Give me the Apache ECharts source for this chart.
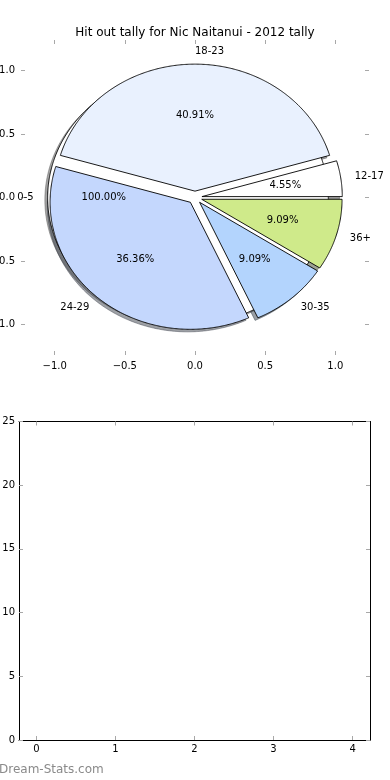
<!DOCTYPE html>
<html><head><meta charset="utf-8">
<script src="https://cdn.jsdelivr.net/npm/echarts@6/dist/echarts.min.js"></script>
<style>html,body{margin:0;padding:0;background:#fff}#c{width:390px;height:780px}</style>
</head><body><div id="c"></div>
<script>
const titleText = 'Hit out tally for Nic Naitanui - 2012 tally';
const outerGroups = ['0-5'];
const outerValues = [1];
const ageGroups = ['12-17', '18-23', '24-29', '30-35', '36+'];
const hitOuts = [1, 9, 8, 2, 2];
const pieTicks = [-1, -0.5, 0, 0.5, 1];
const barXTicks = [0, 1, 2, 3, 4];
const barYTicks = [0, 5, 10, 15, 20, 25];
const watermark = 'Dream-Stats.com';

const colors = ['#ffffff', '#e9f1fe', '#c4d7fd', '#b3d4fd', '#cfea8a'];
const EXPLODE = 0.05, SHADOW_OFF = -0.02, LABEL_DIST = 1.1, PCT_DIST = 0.6;
const FONT = 'DejaVu Sans';

function buildWedges(values, labels) {
  const total = values.reduce((a, b) => a + b, 0);
  let acc = 0;
  return values.map((v, i) => {
    const t1 = acc / total * 360; acc += v; const t2 = acc / total * 360;
    return { t1, t2, frac: v / total, label: labels[i], color: colors[i % colors.length] };
  });
}
const allWedges = buildWedges(outerValues, outerGroups).concat(buildWedges(hitOuts, ageGroups));

function center(w) {
  const mid = (w.t1 + w.t2) / 2 * Math.PI / 180;
  return [EXPLODE * Math.cos(mid), EXPLODE * Math.sin(mid), mid];
}
function wedgePoints(w, api, off) {
  const c = center(w);
  const cx = c[0] + off, cy = c[1] + off;
  const full = (w.t2 - w.t1) >= 359.999;
  const pts = [];
  if (!full) pts.push(api.coord([cx, cy]));
  const n = Math.max(4, Math.ceil((w.t2 - w.t1) / 0.5));
  for (let k = 0; k <= n; k++) {
    const t = (w.t1 + (w.t2 - w.t1) * k / n) * Math.PI / 180;
    pts.push(api.coord([cx + Math.cos(t), cy + Math.sin(t)]));
  }
  return pts;
}
function shadowColor(hex) {
  const r = parseInt(hex.slice(1, 3), 16), g = parseInt(hex.slice(3, 5), 16), b = parseInt(hex.slice(5, 7), 16);
  return 'rgba(' + Math.round(r * 0.3) + ',' + Math.round(g * 0.3) + ',' + Math.round(b * 0.3) + ',0.5)';
}
const idx = allWedges.map((w, i) => i);

const tickStyle = { show: true, inside: true, length: 4, lineStyle: { color: '#a8a8a8', width: 1 } };
const lblStyle = { fontSize: 10, color: '#000', fontFamily: FONT };
const fmt = v => (v < 0 ? '\u2212' : '') + Math.abs(v).toFixed(1);

function pieAxis(pos, showLabel) {
  return {
    gridIndex: 0, type: 'value', min: -1.24, max: 1.24, position: pos,
    axisLine: { show: true, onZero: false, lineStyle: { color: 'rgba(0,0,0,0)', width: 1 } },
    splitLine: { show: false },
    axisTick: Object.assign({ customValues: pieTicks }, tickStyle),
    axisLabel: Object.assign({ show: showLabel, customValues: pieTicks, formatter: fmt, margin: 6 }, lblStyle)
  };
}
function barAxis(pos, showLabel, isX) {
  const a = {
    gridIndex: 1, type: 'value', position: pos,
    axisLine: { show: true, onZero: false, lineStyle: { color: '#000', width: 1 } },
    splitLine: { show: false },
    axisLabel: Object.assign({ show: showLabel, margin: 4 }, lblStyle)
  };
  if (isX) {
    a.min = -0.22; a.max = 4.22;
    a.axisTick = Object.assign({ customValues: barXTicks }, tickStyle);
    a.axisLabel.customValues = barXTicks;
  } else {
    a.min = barYTicks[0]; a.max = barYTicks[barYTicks.length - 1]; a.interval = 5;
    a.axisTick = Object.assign({}, tickStyle);
  }
  return a;
}

const option = {
  animation: false,
  backgroundColor: '#fff',
  title: { text: titleText, left: 'center', top: 22,
    textStyle: { fontSize: 12, fontWeight: 'normal', fontFamily: FONT, color: '#000' } },
  grid: [
    { left: 21, top: 40, width: 348, height: 315, outerBoundsMode: 'none', containLabel: false },
    { left: 19, top: 421.5, width: 351, height: 318.5, outerBoundsMode: 'none', containLabel: false }
  ],
  xAxis: [pieAxis('bottom', true), pieAxis('top', false), barAxis('bottom', true, true), barAxis('top', false, true)],
  yAxis: [
    pieAxis('left', true),
    pieAxis('right', false),
    barAxis('left', true, false), barAxis('right', false, false)
  ].map((a, i) => { a.gridIndex = i < 2 ? 0 : 1; return a; }),
  graphic: [{ type: 'text', left: -1, top: 764,
    style: { text: watermark, fill: '#8a8a8a', fontSize: 12, fontFamily: FONT } }],
  series: [
    { type: 'custom', name: 'shadows', xAxisIndex: 0, yAxisIndex: 0, data: idx, z: 1,
      renderItem: (p, api) => {
        const w = allWedges[p.dataIndex];
        const c = shadowColor(w.color);
        return { type: 'polygon', shape: { points: wedgePoints(w, api, SHADOW_OFF) },
          style: { fill: c, stroke: c, lineWidth: 0.9 } };
      } },
    { type: 'custom', name: 'wedges', xAxisIndex: 0, yAxisIndex: 0, data: idx, z: 2,
      renderItem: (p, api) => {
        const w = allWedges[p.dataIndex];
        return { type: 'polygon', shape: { points: wedgePoints(w, api, 0) },
          style: { fill: w.color, stroke: '#000', lineWidth: 0.9 } };
      } },
    { type: 'custom', name: 'labels', xAxisIndex: 0, yAxisIndex: 0, data: idx, z: 3,
      renderItem: (p, api) => {
        const w = allWedges[p.dataIndex];
        const c = center(w), mid = c[2];
        const lx = c[0] + LABEL_DIST * Math.cos(mid), ly = c[1] + LABEL_DIST * Math.sin(mid);
        const px = c[0] + PCT_DIST * Math.cos(mid), py = c[1] + PCT_DIST * Math.sin(mid);
        const lp = api.coord([lx, ly]), pp = api.coord([px, py]);
        return { type: 'group', children: [
          { type: 'text', style: { text: w.label, x: lp[0], y: lp[1], fill: '#000', fontSize: 10, fontFamily: FONT,
            align: lx > -1e-9 ? 'left' : 'right', verticalAlign: 'middle' } },
          { type: 'text', style: { text: (w.frac * 100).toFixed(2) + '%', x: pp[0], y: pp[1], fill: '#000', fontSize: 10, fontFamily: FONT,
            align: 'center', verticalAlign: 'middle' } }
        ] };
      } },
    { type: 'scatter', xAxisIndex: 2, yAxisIndex: 2, data: [] }
  ]
};
const chart = echarts.init(document.getElementById('c'), null, { renderer: 'canvas' });
chart.setOption(option);
</script>
</body></html>
